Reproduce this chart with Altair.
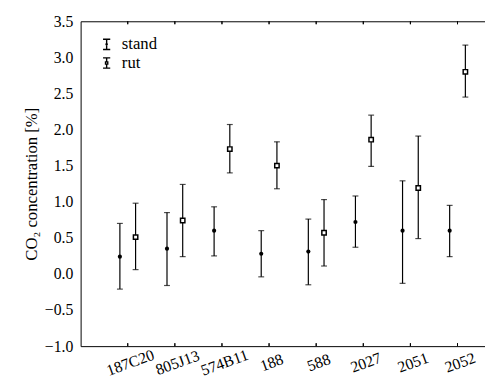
import altair as alt
import pandas as pd

categories = ["187C20", "805J13", "574B11", "188", "588", "2027", "2051", "2052"]
series_names = ["stand", "rut"]
stand_mean = [0.24, 0.35, 0.60, 0.28, 0.31, 0.72, 0.60, 0.60]
stand_lo = [-0.21, -0.16, 0.25, -0.04, -0.15, 0.37, -0.13, 0.24]
stand_hi = [0.70, 0.85, 0.93, 0.60, 0.76, 1.08, 1.29, 0.95]
rut_mean = [0.51, 0.74, 1.73, 1.50, 0.57, 1.86, 1.19, 2.80]
rut_lo = [0.06, 0.24, 1.40, 1.18, 0.11, 1.49, 0.49, 2.45]
rut_hi = [0.98, 1.24, 2.07, 1.83, 1.03, 2.20, 1.91, 3.17]
y_ticks = [-1.0, -0.5, 0.0, 0.5, 1.0, 1.5, 2.0, 2.5, 3.0, 3.5]

rows = []
for i, c in enumerate(categories):
    rows.append({"cat": c, "series": "stand", "mean": stand_mean[i], "lo": stand_lo[i], "hi": stand_hi[i]})
    rows.append({"cat": c, "series": "rut", "mean": rut_mean[i], "lo": rut_lo[i], "hi": rut_hi[i]})
df = pd.DataFrame(rows)

FONT = "Times New Roman"
W, H = 412, 331

x_axis = alt.Axis(title=None, labelAngle=-20, labelAlign="center", labelBaseline="top",
                  labelFontSize=16, labelFont=FONT, labelColor="black",
                  labelPadding=9, domain=True, domainColor="black", domainWidth=1,
                  ticks=False, grid=False)
y_axis = alt.Axis(title="CO₂ concentration [%]", values=y_ticks, format=".1f",
                  labelFontSize=16, labelFont=FONT, labelColor="black", labelPadding=8,
                  titleFont=FONT, titleFontSize=17, titleFontWeight="normal",
                  titleColor="black", titlePadding=4, domain=True, domainColor="black",
                  domainWidth=1, ticks=False, grid=False)
top_axis = alt.Axis(title=None, orient="top", labels=False, ticks=False, domain=True,
                    domainColor="black", domainWidth=1, grid=False, minExtent=0, maxExtent=0)
x_scale = alt.Scale(paddingInner=0, paddingOuter=0.2917, align=0.857)
y_scale = alt.Scale(domain=[-1.0, 3.5], nice=False, zero=False)


def X(axis=x_axis):
    return alt.X("cat:N", sort=categories, scale=x_scale, axis=axis)


def XO():
    return alt.XOffset("series:N", sort=series_names, scale=alt.Scale(type="point", padding=2.5))


def Y(field):
    return alt.Y(field, type="quantitative", scale=y_scale, axis=y_axis)


base = alt.Chart(df)

rules = base.mark_rule(color="black", strokeWidth=1.2).encode(
    x=X(), xOffset=XO(), y=Y("lo"), y2="hi:Q")
caps_lo = base.mark_tick(color="black", size=6, thickness=1.2, orient="horizontal").encode(
    x=X(), xOffset=XO(), y=Y("lo"))
caps_hi = base.mark_tick(color="black", size=6, thickness=1.2, orient="horizontal").encode(
    x=X(), xOffset=XO(), y=Y("hi"))

pts_stand = base.transform_filter(alt.datum.series == "stand").mark_point(
    shape="circle", filled=True, color="black", size=18, opacity=1).encode(
    x=X(), xOffset=XO(), y=Y("mean"))
pts_rut = base.transform_filter(alt.datum.series == "rut").mark_point(
    shape="square", filled=False, color="black", fill="white", fillOpacity=1,
    strokeWidth=1.5, size=20, opacity=1).encode(
    x=X(), xOffset=XO(), y=Y("mean"))

ticks_bottom = base.mark_rule(color="black", strokeWidth=1).encode(
    x=X(), y=alt.value(H), y2=alt.value(H - 3))
ticks_top = base.mark_rule(color="black", strokeWidth=1).encode(
    x=X(top_axis), y=alt.value(0), y2=alt.value(3))

glyph_stand = ("M-0.7,-1H0.7M0,-1V1M-0.7,1H0.7"
               "M-0.12,0A0.12,0.12 0 1,0 0.12,0A0.12,0.12 0 1,0 -0.12,0")
glyph_rut = "M-0.7,-1H0.7M0,-1V-0.22M0,0.22V1M-0.7,1H0.7M-0.22,-0.22H0.22V0.22H-0.22Z"

leg = alt.Legend(title=None, orient="none", legendX=18, legendY=15,
                 symbolOpacity=1, symbolStrokeColor="black", symbolFillColor="transparent",
                 symbolStrokeWidth=1.4, symbolSize=110,
                 labelFont=FONT, labelFontSize=17, labelColor="black",
                 labelOffset=7, rowPadding=1, padding=0)

legend_layer = base.mark_point(opacity=0, filled=False, color="black", strokeWidth=1.4).encode(
    x=X(), xOffset=XO(), y=Y("mean"),
    shape=alt.Shape("series:N", scale=alt.Scale(domain=series_names, range=[glyph_stand, glyph_rut]),
                    legend=leg),
)

chart = alt.layer(
    alt.layer(rules, caps_lo, caps_hi, pts_stand, pts_rut, legend_layer, ticks_bottom),
    ticks_top,
).resolve_axis(x="independent").properties(
    width=W, height=H, padding={"left": 14, "top": 2, "right": 0, "bottom": 0}
).configure(background="white", font=FONT).configure_view(stroke=None)

chart.save("out.html", embed_options={"renderer": "svg", "actions": False})
